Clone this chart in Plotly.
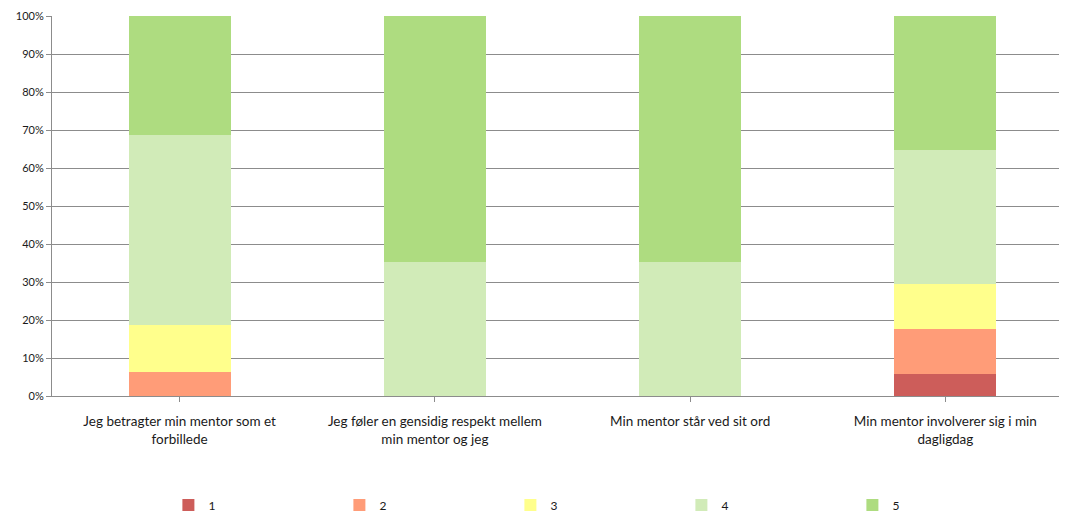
import plotly.graph_objects as go

categories = [
    "Jeg betragter min mentor som et<br>forbillede",
    "Jeg føler en gensidig respekt mellem<br>min mentor og jeg",
    "Min mentor står ved sit ord",
    "Min mentor involverer sig i min<br>dagligdag",
]
series_names = ["1", "2", "3", "4", "5"]
s1 = [0, 0, 0, 5.88]
s2 = [6.25, 0, 0, 11.76]
s3 = [12.5, 0, 0, 11.76]
s4 = [50.0, 35.29, 35.29, 35.29]
s5 = [31.25, 64.71, 64.71, 35.29]
y_ticks = [0, 10, 20, 30, 40, 50, 60, 70, 80, 90, 100]
y_tick_labels = [f"{v}%" for v in y_ticks]
colors = ["#CD5D5A", "#FF9C78", "#FFFF8C", "#D1EBB8", "#AEDC80"]

fig = go.Figure()
for name, vals, col in zip(series_names, [s1, s2, s3, s4, s5], colors):
    fig.add_trace(go.Bar(
        x=list(range(len(categories))), y=vals, name=name,
        marker=dict(color=col, line=dict(width=0)),
        width=0.4,
    ))

fig.update_layout(
    barmode="stack",
    width=1067, height=513,
    margin=dict(l=44, r=2, t=8, b=125, autoexpand=False),
    plot_bgcolor="white", paper_bgcolor="white",
    font=dict(family="Lato, 'Open Sans', sans-serif", size=13, color="#1a1a1a"),
    showlegend=True,
    legend=dict(
        orientation="h", x=0.114, xanchor="left", y=-0.287, yanchor="middle",
        entrywidth=126, entrywidthmode="pixels", itemwidth=30,
        font=dict(size=12), traceorder="normal",
    ),
    xaxis=dict(
        tickmode="array", tickvals=list(range(len(categories))), ticktext=categories,
        range=[-0.5, 3.5], automargin=False,
        showline=True, linecolor="#8c8c8c", linewidth=1,
        ticks="outside", tickson="boundaries", ticklen=5, tickcolor="#8c8c8c",
        showgrid=False, tickangle=0, ticklabelstandoff=8,
        tickfont=dict(size=13.5),
    ),
    yaxis=dict(
        range=[0, 100], tickmode="array", tickvals=y_ticks, ticktext=y_tick_labels,
        automargin=False,
        showline=True, linecolor="#8c8c8c", linewidth=1,
        ticks="outside", ticklen=5, tickcolor="#8c8c8c",
        showgrid=True, gridcolor="#8c8c8c", gridwidth=1,
        tickfont=dict(size=11),
        zeroline=False,
    ),
)

fig.write_html("out.html")
